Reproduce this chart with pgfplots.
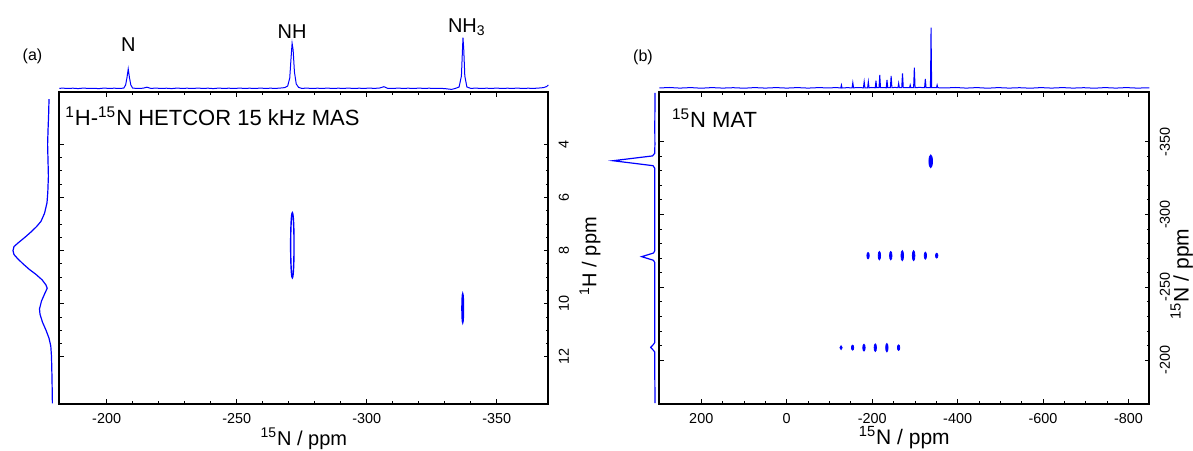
\documentclass[border=0pt]{standalone}
\usepackage{fontspec}
\setmainfont{Liberation Sans}
\usepackage{pgfplots}
\pgfplotsset{compat=1.18}
\definecolor{specblue}{RGB}{0,0,255}
\pgfplotsset{
  mainax/.style={
    scale only axis,
    axis line style={line width=0.85pt},
    every tick/.style={line width=0.4pt, black},
    tick align=inside,
    major tick length=2.4pt,
    minor tick length=1.3pt,
    x dir=reverse, y dir=reverse,
    yticklabel pos=right,
    tick label style={font=\fontsize{7.2}{8}\selectfont},
    /pgf/number format/assume math mode=true,
    xticklabel style={inner sep=0pt, anchor=north},
    yticklabel style={inner sep=0pt, rotate=90, anchor=north},
    xticklabel shift=4.3pt,
    yticklabel shift=5pt,
    clip=false,
  },
  projax/.style={scale only axis, hide axis, clip=false},
  spot/.style={color=specblue, only marks, mark=*, mark size=#1,
    every mark/.append style={fill=specblue, draw=none}},
}
\begin{document}
\begin{tikzpicture}
\useasboundingbox (0,0) rectangle (596.5pt,225pt);

% ================= Panel (a) =================
\begin{axis}[mainax, at={(29.65pt,23pt)}, anchor=south west,
  width=244.5pt, height=155.85pt,
  xmin=-369.8, xmax=-181.8, ymin=2.04, ymax=13.78,
  xtick={-200,-250,-300,-350}, minor x tick num=4,
  ytick={4,6,8,10,12}, minor y tick num=3]
\addplot[color=specblue, only marks, mark=o, mark size=16.3pt,
  mark options={xscale=0.052, line width=0.7pt, draw=specblue, fill=none}] coordinates {(-271.4,7.8)};
\addplot[color=specblue, only marks, mark=o, mark size=7.2pt,
  mark options={xscale=0.055, line width=0.7pt, draw=specblue, fill=none}] coordinates {(-336.9,10.17)};
\end{axis}

% top projection (a)
\begin{axis}[projax, at={(29.65pt,180pt)}, anchor=south west,
  width=244.5pt, height=35pt,
  xmin=-369.8, xmax=-181.8, x dir=reverse, ymin=0, ymax=70]
\addplot[specblue, line width=0.5pt] coordinates {
(-181.8,1.6) (-183,1.9) (-185,1.5) (-187,1.8) (-189,1.4) (-191,1.9) (-193,1.6) (-195,1.7)
(-197,1.4) (-199,1.9) (-201,1.6) (-203,1.8) (-205,1.5) (-206.6,1.9) (-207.3,5) (-207.8,12)
(-208.3,21) (-208.8,12) (-209.3,5) (-210,1.9) (-212,1.5) (-214,1.8) (-215.5,2.8) (-217,1.6)
(-219,1.9) (-221,1.5) (-223,1.8) (-225,1.4) (-227,1.9) (-229,1.6) (-231,1.8) (-233,1.5)
(-235,1.9) (-237,1.6) (-239,1.8) (-241,1.4) (-243,1.9) (-245,1.6) (-247,1.8) (-249,1.5)
(-251,1.9) (-253,1.6) (-255,1.8) (-257,1.5) (-259,1.9) (-261,1.6) (-263,1.8) (-265,1.6)
(-267,2.0) (-268.5,2.4) (-269.6,4) (-270.4,12) (-270.9,32) (-271.3,46.7) (-271.7,40)
(-272.2,18) (-272.9,6) (-273.8,2.6) (-275,1.6) (-277,1.9) (-279,1.5) (-281,1.8) (-283,1.6)
(-285,1.9) (-287,1.5) (-289,1.8) (-291,1.6) (-293,1.9) (-295,1.5) (-297,1.8) (-299,1.6)
(-301,1.9) (-303,1.6) (-305,2.0) (-306.6,3.3) (-308,1.7) (-310,1.5) (-312,1.9) (-314,1.6)
(-316,1.8) (-318,1.5) (-320,1.9) (-322,1.6) (-324,1.8) (-326,1.5) (-328,1.7) (-330,1.4)
(-332.6,0.6) (-334,1.5) (-335.5,3) (-336.4,14) (-336.8,40) (-337.0,52.3) (-337.3,40)
(-337.7,14) (-338.5,3) (-340,1.6) (-342,1.9) (-344,1.5) (-346,1.8) (-348,1.6) (-350,1.9)
(-352,1.5) (-354,1.8) (-356,1.6) (-358,1.9) (-360,1.5) (-362,1.8) (-364,1.6) (-366,1.9)
(-368,2.4) (-369.2,3.5) (-369.8,5)};
\node[font=\fontsize{10}{12}\selectfont] at (axis cs:-208.3,45) {N};
\node[font=\fontsize{10}{12}\selectfont] at (axis cs:-271.3,58.3) {NH};
\node[font=\fontsize{10}{12}\selectfont] at (axis cs:-338.5,63.3) {NH\textsubscript{3}};
\end{axis}

% left projection (a)
\begin{axis}[projax, at={(2.5pt,23pt)}, anchor=south west,
  width=25pt, height=155.85pt,
  xmin=0, xmax=50, x dir=reverse, ymin=2.04, ymax=13.78, y dir=reverse]
\addplot[specblue, line width=0.6pt] coordinates {
(6.0,2.3) (6.3,2.8) (6.9,3.4) (7.4,4.0) (7.0,4.6) (6.6,5.2) (7.2,5.8) (8.0,6.2)
(10.5,6.6) (14.0,6.9) (18.5,7.1) (24.0,7.3) (30.0,7.5) (36.5,7.7) (41.0,7.85) (42.0,8.0)
(41.0,8.15) (37.5,8.3) (32.0,8.5) (26.0,8.7) (19.0,8.9) (13.0,9.1) (9.0,9.3) (7.8,9.42)
(10.0,9.6) (13.5,9.9) (15.5,10.2) (15.0,10.4) (12.5,10.7) (9.0,11.0) (6.0,11.3) (4.2,11.6)
(3.5,12.0) (3.0,12.8) (2.6,13.76)};
\end{axis}

% ================= Panel (b) =================
\begin{axis}[mainax, at={(329.65pt,23pt)}, anchor=south west,
  width=245pt, height=155.85pt,
  xmin=-848.6, xmax=298.2, ymin=-383.9, ymax=-169.8,
  xtick={200,0,-200,-400,-600,-800}, minor x tick num=3,
  ytick={-350,-300,-250,-200}, minor y tick num=4,
  yticklabel shift=5pt]
\addplot[spot=3.2pt, mark options={xscale=0.28}] coordinates {(-337,-336.5)};
% row at -271.7
\addplot[spot=1.6pt, mark options={xscale=0.37}] coordinates {(-190.4,-271.7)};
\addplot[spot=2.1pt, mark options={xscale=0.29}] coordinates {(-216.9,-271.7) (-243.5,-271.7)};
\addplot[spot=2.5pt, mark options={xscale=0.26}] coordinates {(-270.5,-271.7) (-297,-271.7)};
\addplot[spot=1.75pt, mark options={xscale=0.34}] coordinates {(-324.5,-271.7)};
\addplot[spot=1.2pt, mark options={xscale=0.5}] coordinates {(-351,-271.7)};
% row at -208.5
\addplot[spot=0.95pt, mark options={xscale=0.6}] coordinates {(-127.2,-208.5)};
\addplot[spot=1.25pt, mark options={xscale=0.46}] coordinates {(-154.1,-208.5)};
\addplot[spot=1.7pt, mark options={xscale=0.35}] coordinates {(-180.8,-208.5)};
\addplot[spot=1.9pt, mark options={xscale=0.31}] coordinates {(-207.3,-208.5)};
\addplot[spot=2.1pt, mark options={xscale=0.29}] coordinates {(-234.4,-208.5)};
\addplot[spot=1.4pt, mark options={xscale=0.42}] coordinates {(-261.8,-208.5)};
\end{axis}

% top projection (b)
\begin{axis}[projax, at={(329.65pt,180pt)}, anchor=south west,
  width=245pt, height=35pt,
  xmin=-848.6, xmax=298.2, x dir=reverse, ymin=0, ymax=70]
\addplot[specblue, line width=0.5pt] coordinates {
(298.2,2.0) (275,2.5) (250,1.9) (225,2.4) (200,1.8) (175,2.4) (150,1.9) (125,2.3) (100,1.8)
(75,2.4) (50,1.9) (25,2.4) (0,1.9) (-25,2.4) (-50,1.9) (-75,2.4) (-100,2.0) (-115,2.5)
(-126.5,2.0) (-128,5) (-129.5,2.0) (-140,2.3)
(-153,2.2) (-154.7,7.3) (-156.4,2.2) (-166,2.4)
(-179.5,2.2) (-181.3,8.3) (-183,2.2)
(-189.3,2.2) (-191,8.3) (-192.7,2.2) (-199,2.5)
(-207.2,2.2) (-208.9,9.3) (-210.5,2.3)
(-216,2.3) (-217.8,15) (-219.5,2.3) (-226,2.4)
(-233,2.2) (-234.7,10) (-236.4,2.3)
(-242.6,2.3) (-244.4,14) (-246.2,2.3) (-253,2.6)
(-260.3,2.3) (-262,6.7) (-263.7,2.3)
(-269.2,2.3) (-271,16.7) (-272.8,2.3) (-280,2.5)
(-287.5,2.3) (-289,5) (-290.5,2.3)
(-297,2.3) (-298.7,22.3) (-300.4,2.3) (-311,2.6)
(-322.7,2.3) (-324.4,11) (-326.1,2.3) (-331,2.4)
(-336.3,2.3) (-337.1,30) (-337.8,62.3) (-338.5,30) (-339.3,2.3) (-345,2.5)
(-350.5,2.3) (-352,5) (-353.5,2.3)
(-370,2.0) (-395,2.5) (-420,1.9) (-445,2.4) (-470,1.8) (-495,2.4) (-520,1.9) (-545,2.3)
(-570,1.8) (-595,2.4) (-620,1.9) (-645,2.4) (-670,1.9) (-695,2.3) (-720,1.8) (-745,2.4)
(-770,1.9) (-795,2.4) (-820,1.9) (-848.6,2.2)};
\end{axis}

% left projection (b)
\begin{axis}[projax, at={(302.5pt,23pt)}, anchor=south west,
  width=25pt, height=155.85pt,
  xmin=0, xmax=50, x dir=reverse, ymin=-383.9, ymax=-169.8, y dir=reverse]
\addplot[specblue, line width=0.6pt] coordinates {
(0,-383.5) (0.2,-360) (0.1,-348) (0.3,-342) (2.5,-340.2) (42,-336.9) (2,-333.5) (0.3,-331.8)
(0.2,-300) (0.3,-275) (1.5,-273.5) (13.3,-271.0) (1.5,-268.5) (0.3,-267)
(0.3,-240) (0.3,-212) (1.5,-210.8) (4.3,-208.7) (1.5,-206.6) (0.3,-205.5) (0.2,-190) (0,-170.4)};
\end{axis}

% ================= Texts =================
\node[font=\fontsize{8}{9}\selectfont] at (16.25pt,196.65pt) {(a)};
\node[font=\fontsize{8}{9}\selectfont] at (321.5pt,196.35pt) {(b)};
\node[anchor=west, inner sep=0pt, font=\fontsize{11}{13}\selectfont] at (32.5pt,166.65pt)
  {\textsuperscript{1}H-\textsuperscript{15}N HETCOR 15 kHz MAS};
\node[anchor=west, inner sep=0pt, font=\fontsize{11}{13}\selectfont] at (335.85pt,166pt)
  {\textsuperscript{15}N MAT};
\node[anchor=base, inner sep=0pt, font=\fontsize{10}{12}\selectfont] at (151.9pt,2.4pt)
  {\textsuperscript{15}N / ppm};
\node[anchor=base, inner sep=0pt, font=\fontsize{10.5}{12}\selectfont] at (452.15pt,3pt)
  {\textsuperscript{15}N / ppm};
\node[rotate=90, inner sep=0pt, font=\fontsize{10}{12}\selectfont] at (295pt,96.75pt)
  {\textsuperscript{1}H / ppm};
\node[rotate=90, anchor=base west, inner sep=0pt, font=\fontsize{10.5}{12}\selectfont] at (594.3pt,65pt)
  {\textsuperscript{15}N / ppm};
\end{tikzpicture}
\end{document}
